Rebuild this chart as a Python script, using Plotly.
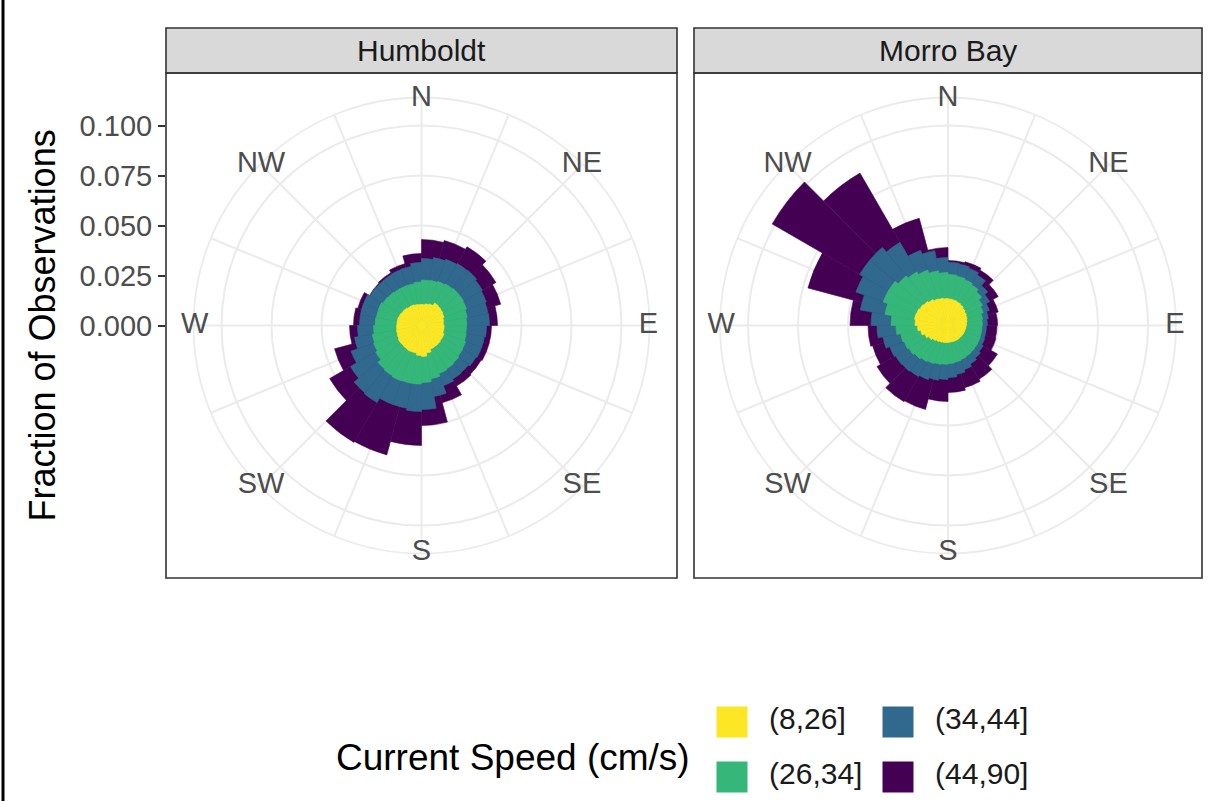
import plotly.graph_objects as go

# ---- data (cumulative fraction of observations by direction bin) ----
sites = ["Humboldt", "Morro Bay"]
speed_classes = ["(8,26]", "(26,34]", "(34,44]", "(44,90]"]
speed_colors = ["#FDE725", "#35B779", "#31688E", "#440154"]
compass = ["N", "NE", "E", "SE", "S", "SW", "W", "NW"]
compass_deg = [0, 45, 90, 135, 180, 225, 270, 315]
r_ticks = [0.000, 0.025, 0.050, 0.075, 0.100]

dir_10 = list(range(5, 360, 10))             # 10 degree bins (first three classes)
dir_15 = [7.5 + 15 * i for i in range(24)]   # 15 degree bins (top class)

hum_8_26 = [0.0105, 0.011, 0.0115, 0.013, 0.0127, 0.0124, 0.012, 0.0113, 0.011, 0.0113,
            0.0113, 0.012, 0.012, 0.0123, 0.0124, 0.0126, 0.014, 0.0155, 0.015, 0.014,
            0.014, 0.0137, 0.0135, 0.0135, 0.013, 0.0127, 0.0125, 0.0123, 0.0123, 0.012,
            0.0116, 0.0115, 0.011, 0.011, 0.0107, 0.0105]
hum_26_34 = [0.0227, 0.023, 0.0235, 0.024, 0.0243, 0.0243, 0.024, 0.0232, 0.0226, 0.0225,
             0.0228, 0.0235, 0.0238, 0.0245, 0.025, 0.0255, 0.027, 0.0285, 0.0293, 0.0293,
             0.0295, 0.029, 0.0285, 0.0265, 0.0255, 0.025, 0.024, 0.0232, 0.0229, 0.023,
             0.0222, 0.0218, 0.0214, 0.0213, 0.0212, 0.0218]
hum_34_44 = [0.0335, 0.0345, 0.0353, 0.0358, 0.036, 0.0352, 0.0345, 0.0338, 0.034, 0.0325,
             0.032, 0.032, 0.0315, 0.0307, 0.031, 0.032, 0.036, 0.042, 0.043, 0.042,
             0.042, 0.0445, 0.044, 0.041, 0.0375, 0.034, 0.032, 0.031, 0.031, 0.031,
             0.0298, 0.0295, 0.0296, 0.0298, 0.030, 0.0315]
hum_44_90 = [0.043, 0.044, 0.0455, 0.043, 0.041, 0.038, 0.035, 0.035, 0.0345, 0.035,
             0.040, 0.050, 0.060, 0.067, 0.0675, 0.053, 0.045, 0.036, 0.034, 0.033,
             0.030, 0.0305, 0.032, 0.036]

mb_8_26 = [0.0133, 0.013, 0.0125, 0.012, 0.0113, 0.0107, 0.0102, 0.0097, 0.0093, 0.009,
           0.0088, 0.0087, 0.0086, 0.0085, 0.0085, 0.0084, 0.0084, 0.0084, 0.0085, 0.0087,
           0.0089, 0.0093, 0.010, 0.011, 0.0123, 0.0138, 0.0152, 0.0165, 0.017, 0.0168,
           0.0163, 0.0158, 0.015, 0.0142, 0.0138, 0.0135]
mb_26_34 = [0.0255, 0.025, 0.0243, 0.0235, 0.022, 0.020, 0.0188, 0.0176, 0.0172, 0.017,
            0.017, 0.0172, 0.0174, 0.0176, 0.0178, 0.0182, 0.0186, 0.019, 0.0194, 0.0198,
            0.0204, 0.021, 0.0218, 0.0226, 0.0233, 0.024, 0.026, 0.0285, 0.032, 0.0345,
            0.0345, 0.0325, 0.031, 0.0295, 0.0278, 0.0265]
mb_34_44 = [0.0316, 0.0312, 0.0305, 0.0292, 0.026, 0.024, 0.022, 0.0205, 0.0197, 0.0192,
            0.0192, 0.0195, 0.0203, 0.0212, 0.0222, 0.0235, 0.0248, 0.026, 0.027, 0.0278,
            0.0288, 0.0295, 0.030, 0.0303, 0.031, 0.033, 0.0355, 0.0385, 0.0445, 0.049,
            0.051, 0.051, 0.048, 0.040, 0.038, 0.034]
mb_44_90 = [0.0325, 0.033, 0.032, 0.029, 0.026, 0.0248, 0.0245, 0.0248, 0.0285, 0.031,
            0.0322, 0.0335, 0.038, 0.0435, 0.044, 0.041, 0.039, 0.040, 0.049, 0.0725,
            0.1015, 0.088, 0.0555, 0.039]

site_data = {
    "Humboldt": [hum_8_26, hum_26_34, hum_34_44, hum_44_90],
    "Morro Bay": [mb_8_26, mb_26_34, mb_34_44, mb_44_90],
}

# ---- page geometry (pixels) ----
W, H = 1210, 801
panel_x = [(166, 677), (694, 1202)]
panel_top, panel_bottom = 73, 578
strip_top = 28
r_max = 0.114          # outer ring of the rose
px_per_unit = 2000.0   # 0.1 -> 200 px


def fx(x):
    return x / W


def fy(y):
    return 1 - y / H


GRID = "#EBEBEB"
FONT = "Liberation Sans, Arial, sans-serif"

fig = go.Figure()
polar_names = ["polar", "polar2"]

for site, pname in zip(sites, polar_names):
    layers = site_data[site]
    for k in reversed(range(len(speed_classes))):
        coarse = k == len(speed_classes) - 1
        fig.add_trace(go.Barpolar(
            r=layers[k],
            theta=dir_15 if coarse else dir_10,
            width=15 if coarse else 10,
            marker=dict(color=speed_colors[k], line=dict(color=speed_colors[k], width=0.6)),
            name=speed_classes[k],
            subplot=pname,
            showlegend=False,
            hoverinfo="skip",
        ))
    fig.add_trace(go.Scatterpolar(
        r=[r_max * 0.995] * len(compass),
        theta=compass_deg,
        mode="text",
        text=compass,
        textfont=dict(family=FONT, size=29, color="#4D4D4D"),
        cliponaxis=False,
        subplot=pname,
        showlegend=False,
        hoverinfo="skip",
    ))

# empty trace so the left fraction axis gets drawn
fig.add_trace(go.Scatter(x=[None], y=[None], xaxis="x", yaxis="y", showlegend=False, hoverinfo="skip"))

# custom legend with large swatches
leg_x = [i // 2 for i in range(len(speed_classes))]
leg_y = [1 - i % 2 for i in range(len(speed_classes))]
fig.add_trace(go.Scatter(
    x=leg_x, y=leg_y,
    mode="markers+text",
    marker=dict(symbol="square", size=31, color=speed_colors, line=dict(width=0)),
    text=["  " + s for s in speed_classes],
    textposition="middle right",
    textfont=dict(family=FONT, size=30, color="#1A1A1A"),
    xaxis="x2", yaxis="y2",
    showlegend=False, hoverinfo="skip",
    cliponaxis=False,
))

shapes = []
annotations = []
for (x0, x1), site, pname in zip(panel_x, sites, polar_names):
    cx = (x0 + x1) / 2
    cy = (panel_top + panel_bottom) / 2
    rad = r_max * px_per_unit
    fig.layout[pname] = dict(
        domain=dict(x=[fx(cx - rad), fx(cx + rad)], y=[fy(cy + rad), fy(cy - rad)]),
        bgcolor="white",
        barmode="overlay",
        radialaxis=dict(range=[0, r_max], tickvals=r_ticks[1:], showticklabels=False, ticks="",
                        showline=False, gridcolor=GRID, gridwidth=1.8, layer="below traces"),
        angularaxis=dict(rotation=90, direction="clockwise", tickmode="linear", tick0=0, dtick=22.5,
                         showticklabels=False, ticks="", gridcolor=GRID, gridwidth=1.8,
                         linecolor=GRID, linewidth=1.8, layer="below traces"),
    )
    # panel border and strip
    shapes.append(dict(type="rect", xref="paper", yref="paper", x0=fx(x0), x1=fx(x1),
                       y0=fy(panel_bottom), y1=fy(panel_top), line=dict(color="#333333", width=1.6),
                       fillcolor="rgba(0,0,0,0)", layer="above"))
    shapes.append(dict(type="rect", xref="paper", yref="paper", x0=fx(x0), x1=fx(x1),
                       y0=fy(panel_top), y1=fy(strip_top), line=dict(color="#333333", width=1.6),
                       fillcolor="#D9D9D9", layer="below"))
    annotations.append(dict(text=site, x=fx(cx), y=fy((strip_top + panel_top) / 2), xref="paper",
                            yref="paper", showarrow=False, xanchor="center", yanchor="middle",
                            font=dict(family=FONT, size=30, color="#1A1A1A")))

# left image border
shapes.append(dict(type="line", xref="paper", yref="paper", x0=fx(3), x1=fx(3), y0=0, y1=1,
                   line=dict(color="black", width=3)))

annotations.append(dict(text="Fraction of Observations", x=fx(42), y=fy((panel_top + panel_bottom) / 2),
                        xref="paper", yref="paper", showarrow=False, textangle=-90,
                        xanchor="center", yanchor="middle",
                        font=dict(family=FONT, size=36, color="black")))
annotations.append(dict(text="Current Speed (cm/s)", x=fx(513), y=fy(757), xref="paper", yref="paper",
                        showarrow=False, xanchor="center", yanchor="middle",
                        font=dict(family=FONT, size=37, color="black")))

cy = (panel_top + panel_bottom) / 2
fig.update_layout(
    width=W, height=H,
    margin=dict(l=0, r=0, t=0, b=0),
    paper_bgcolor="white",
    plot_bgcolor="rgba(0,0,0,0)",
    showlegend=False,
    shapes=shapes,
    annotations=annotations,
    xaxis=dict(domain=[fx(panel_x[0][0]), fx(panel_x[0][1])], visible=False, range=[0, 1]),
    yaxis=dict(domain=[fy(panel_bottom), fy(panel_top)], anchor="x",
               range=[-(panel_bottom - cy) / px_per_unit, (cy - panel_top) / px_per_unit],
               tickvals=r_ticks, tickformat=".3f", ticks="outside", ticklen=7, tickwidth=1.6,
               tickcolor="#333333", showgrid=False, zeroline=False, showline=False,
               tickfont=dict(family=FONT, size=29, color="#4D4D4D")),
    xaxis2=dict(domain=[0.55, 0.95], range=[-(732 - 0.55 * W) / 166, (0.95 * W - 732) / 166],
                visible=False, fixedrange=True),
    yaxis2=dict(domain=[0, 0.15], range=[-24 / 55, (0.15 * H - 24) / 55], visible=False,
                anchor="x2", fixedrange=True),
)

fig.write_html("out.html", config={"displayModeBar": False},
               post_script="document.body.style.margin='0';")
